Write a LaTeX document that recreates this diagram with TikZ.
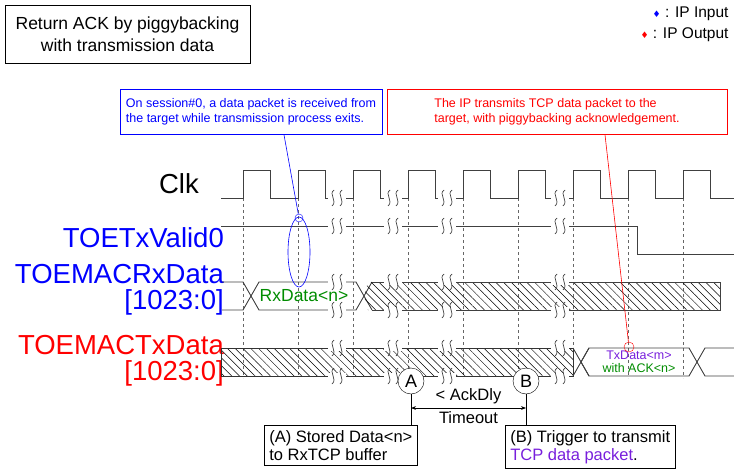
\documentclass[tikz,border=0pt]{standalone}
\usepackage{fontspec}
\setmainfont{Liberation Sans}
\newfontfamily\symfont{DejaVu Sans}
\usetikzlibrary{patterns.meta,arrows.meta,shapes.geometric}

\definecolor{ipblue}{RGB}{0,0,255}
\definecolor{ipred}{RGB}{255,0,0}
\definecolor{dgreen}{RGB}{0,140,0}
\definecolor{purp}{RGB}{120,30,220}

\tikzset{
  sig/.style={draw=black!75, line width=0.9pt},
  grid/.style={draw=black!60, dashed, line width=0.6pt},
  hatch/.style={draw=black!80, line width=0.9pt, pattern={Lines[angle=-45,distance=5.5pt,line width=0.5pt]}},
  lbl/.style={font=\fontsize{27.5}{26}\selectfont, anchor=east, inner sep=0pt},
  note/.style={draw, line width=0.6pt, align=left, font=\fontsize{12.5}{15}\selectfont, inner sep=4pt},
  subnote/.style={draw, line width=0.6pt, align=left, font=\fontsize{16.5}{18}\selectfont, inner sep=5pt},
  ptmark/.style={circle, draw, fill=white, minimum size=26pt, inner sep=0pt, font=\fontsize{18}{20}\selectfont},
}
\newcommand\brk[2]{%
  \fill[white] (#1-9,#2-3) rectangle (#1+9,#2+3);
  \draw[black!75, line width=0.7pt] (#1-3,#2-8) .. controls (#1-9,#2-4) and (#1+1,#2+3) .. (#1-5,#2+8);
  \draw[black!75, line width=0.7pt] (#1+5,#2-8) .. controls (#1-1,#2-4) and (#1+9,#2+3) .. (#1+3,#2+8);
}

\begin{document}
\begin{tikzpicture}[x=1pt, y=-1pt]
    \useasboundingbox (0,0) rectangle (734,471);
    % Title and legend
    \node [draw, line width=0.6pt, minimum width=245pt, minimum height=58pt, align=center,
      font=\fontsize{17.5}{22}\selectfont] (title) at (127.5,34) {Return ACK by piggybacking\\with transmission data};
    \node [anchor=east, font=\fontsize{15.5}{17}\selectfont] (lin) at (732,14) {{\symfont\color{ipblue}\small♦} : IP Input};
    \node [anchor=east, font=\fontsize{15.5}{17}\selectfont] (lout) at (732,35) {{\symfont\color{ipred}\small♦} : IP Output};
    % Signal names
    \node [lbl] (clk) at (199,184) {Clk};
    \node [lbl, text=ipblue] (valid) at (224,238) {TOETxValid0};
    \node [lbl, text=ipblue, align=right] (rx) at (224,290) {TOEMACRxData\\{[1023:0]}};
    \node [lbl, text=ipred, align=right] (tx) at (224,361) {TOEMACTxData\\{[1023:0]}};
    % Grid
    \foreach \x in {243,298,353,408,463,518,573,628,683}
      \draw [grid] (\x,198) -- (\x,378);
    % Clock
    \draw [sig] (221,198) \foreach \x in {243,298,353,408,463,518,573,628,683} {
      -- (\x,198) -- (\x,170) -- (\x+27.5,170) -- (\x+27.5,198)} -- (734,198);
    % Valid
    \draw [sig] (221,226) -- (637,226) -- (637,254) -- (734,254);
    % RxData
    \draw [sig] (222,282) -- (243,282) -- (251,296) -- (243,310) -- (222,310);
    \draw [sig] (251,296) -- (259,282) -- (356,282) -- (364,296) -- (356,310) -- (259,310) -- cycle;
    \draw [sig] (364,296) -- (372,282);
    \draw [sig] (364,296) -- (372,310);
    \fill [pattern={Lines[angle=-45,distance=5.5pt,line width=0.5pt]}] (368,282) -- (720,282) -- (720,310) -- (368,310) -- (364,296) -- cycle;
    \draw [sig] (372,282) -- (720,282) -- (720,310) -- (372,310);
    \node [text=dgreen, font=\fontsize{17.5}{19}\selectfont] (rxd) at (304,296) {RxData<n>};
    % TxData
    \draw [hatch] (221,348) rectangle (573,376);
    \draw [sig] (573,348) -- (589,376);
    \draw [sig] (573,376) -- (589,348);
    \draw [sig] (581,362) -- (589,348) -- (689,348) -- (697,362) -- (689,376) -- (589,376) -- cycle;
    \draw [sig] (697,362) -- (705,348) -- (734,348);
    \draw [sig] (697,362) -- (705,376) -- (734,376);
    \node [align=center, font=\fontsize{12.5}{13}\selectfont] (txd) at (639,362)
      {\textcolor{purp}{TxData<m>}\\\textcolor{dgreen}{with ACK<n>}};
    % Breaks
    \foreach \x in {337,393,447,560}
      \foreach \y in {198,226,282,310,348,376}
        \brk{\x}{\y};
    % Points A and B
    \node [ptmark] (A) at (411,381) {A};
    \node [ptmark] (B) at (526,381) {B};
    \node [subnote, anchor=north west] (na) at (264,425) {(A) Stored Data<n>\\to RxTCP buffer};
    \node [subnote, anchor=north west] (nb) at (505,425) {(B) Trigger to transmit\\\textcolor{purp}{TCP data packet}.};
    \draw [line width=0.6pt] (A) -- (A |- na.north);
    \draw [line width=0.6pt] (B) -- (B |- na.north);
    \draw [{Stealth[length=5pt]}-{Stealth[length=5pt]}, line width=0.6pt] (411,408) -- node [above, font=\fontsize{16.5}{18}\selectfont] {< AckDly}
      node [below, font=\fontsize{16.5}{18}\selectfont] {Timeout} (526,408);
    % Callouts
    \node [note, draw=ipblue, text=ipblue, minimum width=262pt, minimum height=45pt] (cin) at (251,112)
      {On session\#0, a data packet is received from\\the target while transmission process exits.};
    \node [note, draw=ipred, text=ipred, minimum width=340pt, minimum height=45pt] (cout) at (557,112)
      {The IP transmits TCP data packet to the\\target, with piggybacking acknowledgement.};
    \node [circle, draw=ipblue, minimum size=8pt, inner sep=0pt] (pin) at (299,218) {};
    \node [ellipse, draw=ipblue, line width=0.6pt, minimum width=22pt, minimum height=70pt] (ring) at (299,252) {};
    \node [circle, draw=ipred, minimum size=10pt, inner sep=0pt] (pout) at (629,347) {};
    \coordinate (cinx) at (284,0);
    \coordinate (coutx) at (605,0);
    \draw [ipblue, line width=0.6pt] (cin.south -| cinx) -- (pin);
    \draw [ipred, line width=0.6pt] (cout.south -| coutx) -- (pout);
\end{tikzpicture}
\end{document}
